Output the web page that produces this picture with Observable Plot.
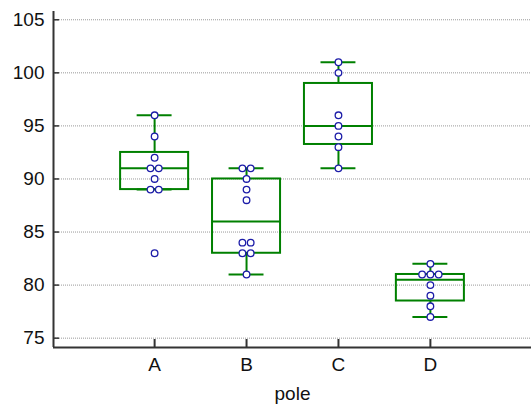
<!DOCTYPE html>
<html>
<head>
<meta charset="utf-8">
<script src="https://cdn.jsdelivr.net/npm/d3@7"></script>
<script src="https://cdn.jsdelivr.net/npm/@observablehq/plot@0.6"></script>
<style>
  html, body { margin: 0; padding: 0; background: #fff; overflow: hidden; }
  #chart svg { display: block; }
</style>
</head>
<body>
<div id="chart"></div>
<script>
// ---- data ----
const categories = ["A", "B", "C", "D"];
const valuesA = [96, 94, 92, 91, 91, 90, 89, 89, 83];
const valuesB = [91, 91, 90, 89, 88, 84, 84, 83, 83, 81];
const valuesC = [101, 100, 96, 95, 94, 93, 91];
const valuesD = [82, 81, 81, 81, 80, 79, 78, 77];
const q1 = [89, 83, 93.25, 78.5];
const median = [91, 86, 95, 80.5];
const q3 = [92.5, 90, 99, 81];
const whiskerLow = [89, 81, 91, 77];
const whiskerHigh = [96, 91, 101, 82];
const yTicks = [75, 80, 85, 90, 95, 100, 105];
const xLabel = "pole";

// ---- build tables ----
const groups = [valuesA, valuesB, valuesC, valuesD];
const points = [];
groups.forEach((vals, i) => {
  const counts = d3.rollup(vals, v => v.length, v => v);
  const seen = new Map();
  vals.forEach(v => {
    const n = counts.get(v);
    const k = seen.get(v) || 0;
    seen.set(v, k + 1);
    points.push({cat: i, value: v, off: (k - (n - 1) / 2) * 0.09});
  });
});
const boxes = categories.map((c, i) => ({
  i, q1: q1[i], med: median[i], q3: q3[i], lo: whiskerLow[i], hi: whiskerHigh[i]
}));

const BOX = 0.37, CAP = 0.19;
const xDom = [-1.1, 4.1];
const yDom = [74.12, 105.78];
const green = "#008000";
const axisColor = "#333";
const textColor = "#111";
const W = 531, H = 412, mL = 53, mR = 0, mT = 11, mB = 65;
const xPerPx = (xDom[1] - xDom[0]) / (W - mL - mR);
const yPerPx = (yDom[1] - yDom[0]) / (H - mT - mB);

const xTickRows = categories.map((c, i) => ({x: i, label: c, y1: yDom[0], y2: yDom[0] + 8 * yPerPx}));
const yTickRows = yTicks.map(v => ({y: v, label: String(v), x1: xDom[0], x2: xDom[0] + 6 * xPerPx}));

const chart = Plot.plot({
  width: W,
  height: H,
  marginLeft: mL,
  marginRight: mR,
  marginTop: mT,
  marginBottom: mB,
  style: {fontFamily: "'Liberation Sans', Arial, sans-serif", fontSize: "19px", color: textColor, background: "#fff", overflow: "hidden"},
  x: {type: "linear", domain: xDom, axis: null},
  y: {domain: yDom, axis: null},
  marks: [
    Plot.ruleY(yTicks, {stroke: "#999", strokeDasharray: "1,1", strokeWidth: 1}),
    // tick labels
    Plot.text(yTickRows, {y: "y", text: "label", frameAnchor: "left", dx: -9, textAnchor: "end", fontSize: 19, fill: textColor}),
    Plot.text(xTickRows, {x: "x", text: "label", frameAnchor: "bottom", dy: 17, lineAnchor: "middle", fontSize: 19, fill: textColor}),
    Plot.text([xLabel], {frameAnchor: "bottom", dy: 46, lineAnchor: "middle", fontSize: 19, fill: textColor}),
    // inward ticks
    Plot.ruleX(xTickRows, {x: "x", y1: "y1", y2: "y2", stroke: axisColor, strokeWidth: 2}),
    Plot.ruleY(yTickRows, {y: "y", x1: "x1", x2: "x2", stroke: axisColor, strokeWidth: 1.5}),
    // whiskers
    Plot.ruleX(boxes, {x: "i", y1: "q3", y2: "hi", stroke: green, strokeWidth: 2}),
    Plot.ruleX(boxes, {x: "i", y1: "lo", y2: "q1", stroke: green, strokeWidth: 2}),
    Plot.ruleY(boxes, {y: "hi", x1: d => d.i - CAP, x2: d => d.i + CAP, stroke: green, strokeWidth: 2}),
    Plot.ruleY(boxes, {y: "lo", x1: d => d.i - CAP, x2: d => d.i + CAP, stroke: green, strokeWidth: 2}),
    // box
    Plot.rect(boxes, {x1: d => d.i - BOX, x2: d => d.i + BOX, y1: "q1", y2: "q3", fill: "none", stroke: green, strokeWidth: 2}),
    Plot.ruleY(boxes, {y: "med", x1: d => d.i - BOX, x2: d => d.i + BOX, stroke: green, strokeWidth: 2}),
    // points
    Plot.dot(points, {x: d => d.cat + d.off, y: "value", r: 3.3, fill: "white", stroke: "#1c1ca8", strokeWidth: 1.3}),
    // axis lines
    Plot.ruleX([xDom[0]], {stroke: axisColor, strokeWidth: 2}),
    Plot.ruleY([yDom[0]], {stroke: axisColor, strokeWidth: 2})
  ]
});
document.getElementById("chart").appendChild(chart);
</script>
</body>
</html>
